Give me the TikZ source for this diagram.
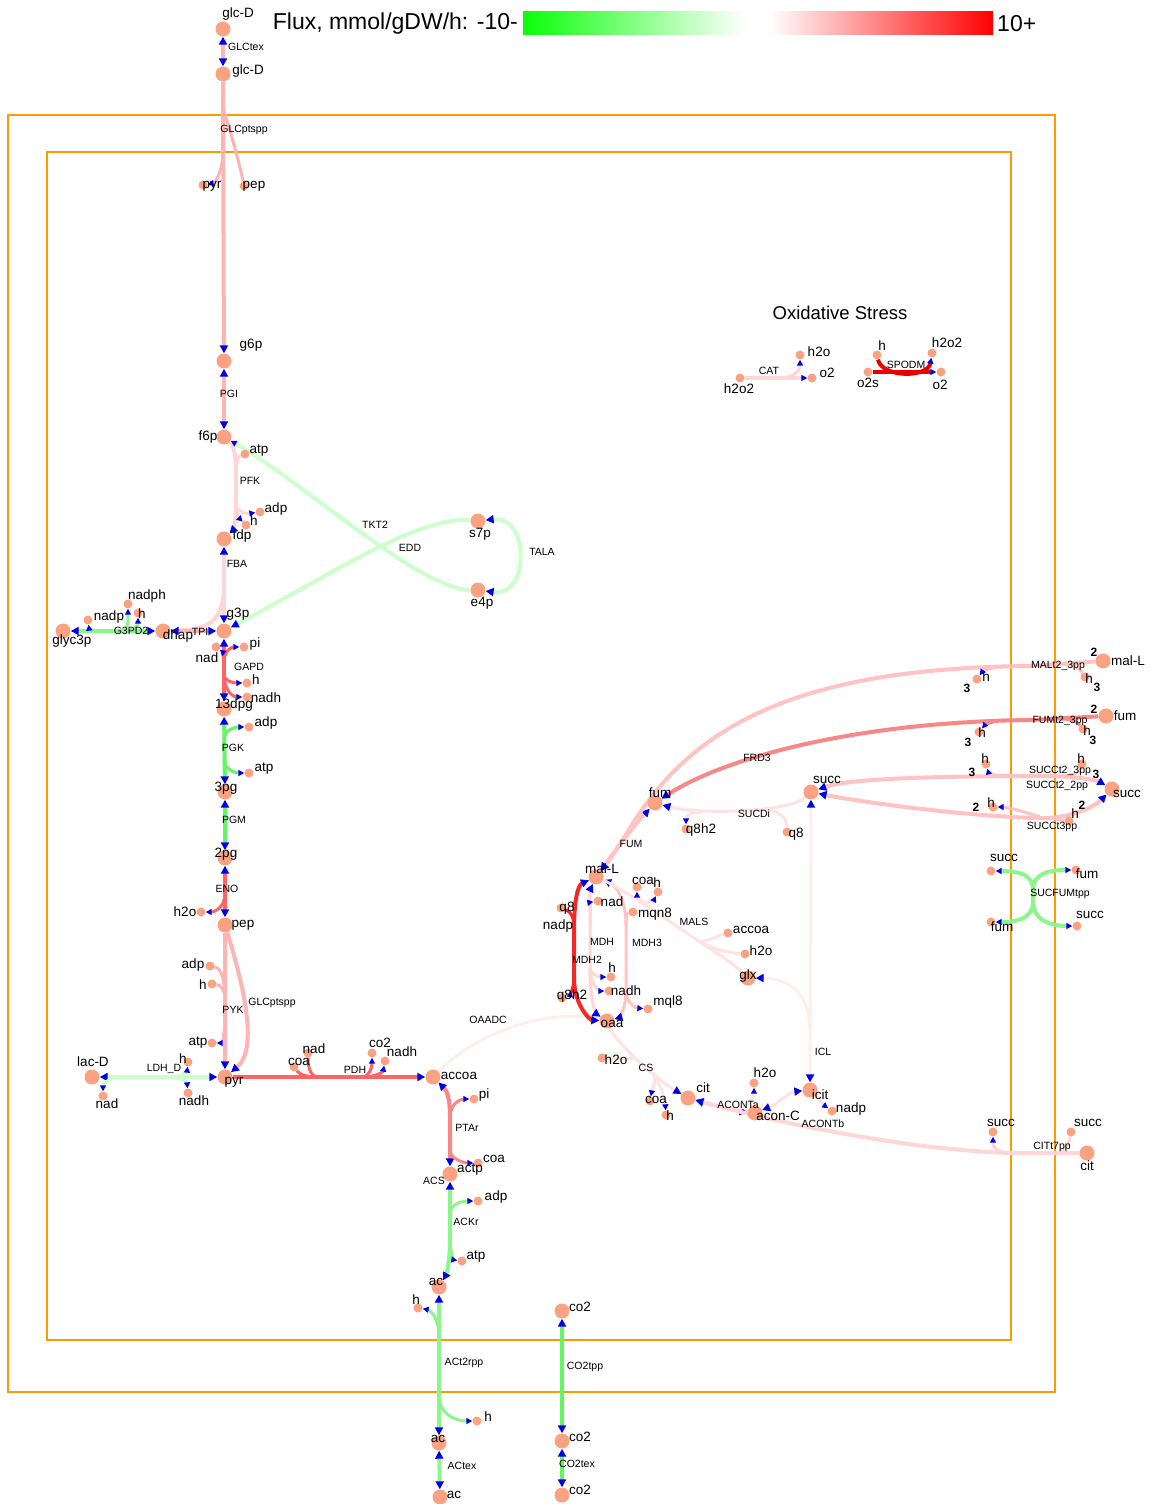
\documentclass[tikz,border=0pt]{standalone}
\usepackage{fontspec}
\setmainfont{Liberation Sans}
\usetikzlibrary{arrows.meta}

\definecolor{metc}{RGB}{250,162,130}
\definecolor{framec}{RGB}{255,153,0}
\definecolor{tipc}{RGB}{0,0,235}
\definecolor{barg}{RGB}{10,255,10}
\definecolor{barr}{RGB}{255,0,0}
\definecolor{pA}{RGB}{255,180,180}
\definecolor{pB}{RGB}{255,214,214}
\definecolor{pC}{RGB}{255,226,226}
\definecolor{pD}{RGB}{255,238,238}
\definecolor{pE}{RGB}{255,195,195}
\definecolor{rA}{RGB}{255,100,100}
\definecolor{rB}{RGB}{248,135,135}
\definecolor{rC}{RGB}{245,40,40}
\definecolor{rD}{RGB}{235,0,0}
\definecolor{gA}{RGB}{100,245,100}
\definecolor{gB}{RGB}{140,245,140}
\definecolor{gC}{RGB}{205,255,205}

\pgfdeclarelayer{frames}
\pgfdeclarelayer{lines}
\pgfsetlayers{frames,lines,main}

\tikzset{
  big/.style={circle,fill=metc,inner sep=0pt,minimum size=15pt},
  sml/.style={circle,fill=metc,inner sep=0pt,minimum size=9pt},
  ml/.style={font=\fontsize{13.5}{14}\selectfont,inner sep=0pt},
  rl/.style={font=\fontsize{10.5}{11}\selectfont,inner sep=0pt},
  sl/.style={font=\bfseries\fontsize{12}{13}\selectfont,inner sep=0pt},
  fl/.style={line width=4pt},
  fn/.style={line width=3pt},
  toL/.style={-{Triangle[length=8pt,width=8pt,color=tipc]}},
  toS/.style={-{Triangle[length=6pt,width=6pt,color=tipc]}},
  fromL/.style={{Triangle[length=8pt,width=8pt,color=tipc]}-},
  fromS/.style={{Triangle[length=6pt,width=6pt,color=tipc]}-},
  twoL/.style={{Triangle[length=8pt,width=8pt,color=tipc]}-{Triangle[length=8pt,width=8pt,color=tipc]}},
  wall/.style={draw=framec,line width=2.5pt},
}

\newcount\labcount
\newcommand{\metlab}[2]{\global\advance\labcount by 1\relax\edef\mylabname{lab\the\labcount}\node[ml] (\mylabname) at (#1) {#2};}
\newcommand{\rxnlab}[2]{\global\advance\labcount by 1\relax\edef\mylabname{lab\the\labcount}\node[rl] (\mylabname) at (#1) {#2};}
\newcommand{\stolab}[2]{\global\advance\labcount by 1\relax\edef\mylabname{lab\the\labcount}\node[sl] (\mylabname) at (#1) {#2};}

\begin{document}
\begin{tikzpicture}[x=1pt,y=-1pt]
\useasboundingbox (0,0) rectangle (1156,1504);

\begin{pgfonlayer}{frames}
  \fill[white] (0,0) rectangle (1156,1504);
  \draw[wall] (8,115) rectangle (1055,1392);
  \draw[wall] (47,152) rectangle (1011,1340);
\end{pgfonlayer}

% legend
\node[anchor=east,font=\fontsize{23}{24}\selectfont,inner sep=0pt] (legtxt) at (518,24) {Flux, mmol/gDW/h: -10-};
\shade[left color=barg,right color=white] (523,12) rectangle (745,35);
\fill[white] (745,12) rectangle (770,35);
\shade[left color=white,right color=barr] (770,12) rectangle (993,35);
\node[anchor=west,font=\fontsize{23}{24}\selectfont,inner sep=0pt] (legmax) at (997,24) {10+};

% ---------- metabolites: large ----------
\node[big] (glcE) at (223,29) {};
\node[big] (glcP) at (223,74) {};
\node[big] (g6p) at (224,361) {};
\node[big] (f6p) at (224,437) {};
\node[big] (fdp) at (224,539) {};
\node[big] (g3p) at (224,631) {};
\node[big] (dhap) at (163,631) {};
\node[big] (glyc3p) at (63,631) {};
\node[big] (dpg13) at (224,709) {};
\node[big] (pg3) at (225,792) {};
\node[big] (pg2) at (225,858) {};
\node[big] (pep) at (225,925) {};
\node[big] (pyr) at (225,1077) {};
\node[big] (lacD) at (92,1077) {};
\node[big] (accoa) at (433,1077) {};
\node[big] (actp) at (450,1174) {};
\node[big] (acC) at (439,1287) {};
\node[big] (acP) at (439,1443) {};
\node[big] (acE) at (440,1497) {};
\node[big] (co2C) at (562,1311) {};
\node[big] (co2P) at (562,1441) {};
\node[big] (co2E) at (562,1495) {};
\node[big] (s7p) at (478,521) {};
\node[big] (e4p) at (478,590) {};
\node[big] (fum) at (655,803) {};
\node[big] (succ) at (811,792) {};
\node[big] (malL) at (596,877) {};
\node[big] (oaa) at (607,1021) {};
\node[big] (glx) at (748,978) {};
\node[big] (cit) at (688,1098) {};
\node[big] (aconC) at (755,1113) {};
\node[big] (icit) at (810,1090) {};
\node[big] (malLp) at (1103,661) {};
\node[big] (fumP) at (1106,716) {};
\node[big] (succP) at (1112,789) {};
\node[big] (citP) at (1087,1153) {};

% ---------- metabolites: small ----------
\node[sml] (pyrP) at (203,185) {};
\node[sml] (pepP) at (244,186) {};
\node[sml] (atp1) at (245,454) {};
\node[sml] (adp1) at (260,512) {};
\node[sml] (h1) at (246,525) {};
\node[sml] (nadp1) at (88,620) {};
\node[sml] (nadph1) at (128,604) {};
\node[sml] (h2) at (138,613) {};
\node[sml] (pi1) at (244,647) {};
\node[sml] (nad1) at (216,647) {};
\node[sml] (h3) at (247,683) {};
\node[sml] (nadh1) at (247,697) {};
\node[sml] (adp2) at (249,727) {};
\node[sml] (atp2) at (249,773) {};
\node[sml] (h2o1) at (201,912) {};
\node[sml] (adp3) at (210,966) {};
\node[sml] (h4) at (212,984) {};
\node[sml] (atp3) at (212,1043) {};
\node[sml] (h5) at (188,1062) {};
\node[sml] (nad2) at (103,1096) {};
\node[sml] (nadh2) at (188,1093) {};
\node[sml] (coa1) at (294,1067) {};
\node[sml] (nad3) at (308,1053) {};
\node[sml] (co2a) at (372,1053) {};
\node[sml] (nadh3) at (385,1061) {};
\node[sml] (pi2) at (474,1099) {};
\node[sml] (coa2) at (478,1163) {};
\node[sml] (adp4) at (478,1201) {};
\node[sml] (atp4) at (462,1261) {};
\node[sml] (h6) at (418,1308) {};
\node[sml] (h7) at (477,1421) {};
\node[sml] (h2o2a) at (740,378) {};
\node[sml] (h2oX) at (800,355) {};
\node[sml] (o2a) at (812,378) {};
\node[sml] (hS) at (877,355) {};
\node[sml] (h2o2b) at (932,353) {};
\node[sml] (o2s) at (868,372) {};
\node[sml] (o2b) at (941,372) {};
\node[sml] (q8h2a) at (686,829) {};
\node[sml] (q8a) at (787,832) {};
\node[sml] (q8b) at (561,908) {};
\node[sml] (q8h2b) at (562,998) {};
\node[sml] (nad4) at (598,901) {};
\node[sml] (coaM) at (637,887) {};
\node[sml] (hM) at (658,892) {};
\node[sml] (mqn8) at (633,912) {};
\node[sml] (accoaM) at (728,933) {};
\node[sml] (h2oM) at (745,954) {};
\node[sml] (h8) at (611,977) {};
\node[sml] (nadh4) at (609,991) {};
\node[sml] (mql8) at (648,1009) {};
\node[sml] (h2oCS) at (602,1058) {};
\node[sml] (coaCS) at (650,1101) {};
\node[sml] (hCS) at (666,1115) {};
\node[sml] (h2oA) at (754,1083) {};
\node[sml] (nadpI) at (832,1111) {};
\node[sml] (h3a) at (977,679) {};
\node[sml] (h3b) at (1085,677) {};
\node[sml] (h3c) at (979,732) {};
\node[sml] (h3d) at (1083,729) {};
\node[sml] (h3e) at (986,764) {};
\node[sml] (h3f) at (1082,764) {};
\node[sml] (h2a) at (993,807) {};
\node[sml] (h2b) at (1069,821) {};
\node[sml] (succS1) at (991,871) {};
\node[sml] (fumS1) at (1076,870) {};
\node[sml] (fumS2) at (991,922) {};
\node[sml] (succS2) at (1077,926) {};
\node[sml] (succC1) at (993,1132) {};
\node[sml] (succC2) at (1071,1132) {};

% ---------- reactions ----------
\begin{pgfonlayer}{lines}
% GLCtex
\draw[fl,pA,twoL] (glcE) -- (glcP);
% GLCptspp (periplasm)
\coordinate (gpA) at (223,108);
\coordinate (gpB) at (223,150);
\draw[fl,pA] (glcP) -- (gpA);
\draw[fl,pA,toL] (gpA) -- (g6p);
\draw[fn,pA] (gpA) .. controls (230,130) and (240,165) .. (pepP);
\draw[fn,pA,toS] (gpB) .. controls (223,172) and (215,183) .. (pyrP);
% PGI
\draw[fl,pA,twoL] (g6p) -- (f6p);
% PFK
\coordinate (pfkA) at (236,470);
\coordinate (pfkB) at (236,505);
\draw[fl,pB] (f6p) .. controls (234,446) and (236,456) .. (pfkA) -- (pfkB);
\draw[fl,pB,toL] (pfkB) .. controls (236,522) and (233,530) .. (fdp);
\draw[fn,pB] (atp1) .. controls (238,456) and (236,462) .. (pfkA);
\draw[fn,pB,toS] (pfkB) .. controls (237,512) and (246,514) .. (adp1);
\draw[fn,pB,toS] (pfkB) .. controls (237,515) and (240,519) .. (h1);
% TKT2, EDD, TALA
\draw[fl,gC,fromS] (f6p) .. controls (300,480) and (420,590) .. (e4p);
\draw[fl,gC,fromL] (g3p) .. controls (330,575) and (420,515) .. (s7p);
\draw[fl,gC,twoL] (s7p) .. controls (530,515) and (530,597) .. (e4p);
% FBA, TPI
\coordinate (fbaA) at (224,585);
\draw[fl,pB,twoL] (fdp) -- (g3p);
\draw[fl,pB] (fbaA) .. controls (224,625) and (205,630) .. (dhap);
\draw[fl,pA,twoL] (dhap) -- (g3p);
% G3PD2
\coordinate (gdA) at (100,631);
\coordinate (gdB) at (122,631);
\draw[fl,gB,twoL] (glyc3p) -- (dhap);
\draw[fn,gB,toS] (gdA) .. controls (92,631) and (89,628) .. (nadp1);
\draw[fn,gB,toS] (gdB) .. controls (128,631) and (128,622) .. (nadph1);
\draw[fn,gB,toS] (gdB) .. controls (134,631) and (138,626) .. (h2);
% GAPD
\coordinate (gaA) at (224,662);
\coordinate (gaB) at (224,675);
\draw[fl,rA,twoL] (g3p) -- (dpg13);
\draw[fn,rA,toS] (gaA) .. controls (224,650) and (232,647) .. (pi1);
\draw[fn,rA,toS] (gaA) .. controls (224,655) and (220,650) .. (nad1);
\draw[fn,rA,toS] (gaB) .. controls (225,682) and (235,683) .. (h3);
\draw[fn,rA,toS] (gaB) .. controls (225,694) and (235,697) .. (nadh1);
% PGK
\coordinate (pkA) at (224,740);
\coordinate (pkB) at (224,758);
\draw[fl,gA,twoL] (dpg13) -- (pg3);
\draw[fn,gA,toS] (pkA) .. controls (224,729) and (236,727) .. (adp2);
\draw[fn,gA,toS] (pkB) .. controls (224,770) and (236,773) .. (atp2);
% PGM
\draw[fl,gA,twoL] (pg3) -- (pg2);
% ENO
\coordinate (enA) at (225,893);
\draw[fl,rA,twoL] (pg2) -- (pep);
\draw[fn,rA,toS] (enA) .. controls (225,908) and (214,912) .. (h2o1);
% PYK
\coordinate (pyA) at (225,1000);
\coordinate (pyB) at (225,1012);
\draw[fl,pA,toL] (pep) -- (pyr);
\draw[fn,pA] (adp3) .. controls (221,968) and (225,978) .. (pyA);
\draw[fn,pA] (h4) .. controls (221,985) and (225,990) .. (pyA);
\draw[fn,pA,toS] (pyB) .. controls (225,1035) and (222,1043) .. (atp3);
% GLCptspp (cytosol)
\draw[fl,pA,toL] (pep) .. controls (245,990) and (258,1050) .. (pyr);
% LDH_D
\coordinate (ldA) at (125,1077);
\coordinate (ldB) at (168,1077);
\draw[fl,gC,twoL] (lacD) -- (pyr);
\draw[fn,gC,toS] (ldA) .. controls (108,1077) and (103,1084) .. (nad2);
\draw[fn,gC,toS] (ldB) .. controls (180,1077) and (187,1072) .. (h5);
\draw[fn,gC,toS] (ldB) .. controls (180,1077) and (187,1082) .. (nadh2);
% PDH
\coordinate (pdA) at (318,1077);
\coordinate (pdB) at (362,1077);
\draw[fl,rA,toL] (pyr) -- (accoa);
\draw[fn,rA] (coa1) .. controls (300,1075) and (308,1077) .. (pdA);
\draw[fn,rA] (nad3) .. controls (308,1070) and (312,1077) .. (pdA);
\draw[fn,rA,toS] (pdB) .. controls (369,1077) and (372,1068) .. (co2a);
\draw[fn,rA,toS] (pdB) .. controls (376,1077) and (383,1072) .. (nadh3);
% OAADC
\draw[fn,pD] (accoa) .. controls (480,1030) and (550,1008) .. (oaa);
% PTAr
\coordinate (ptA) at (450,1118);
\coordinate (ptB) at (450,1150);
\draw[fl,rB,twoL] (accoa) .. controls (446,1090) and (450,1095) .. (ptA) -- (ptB) -- (actp);
\draw[fn,rB,toS] (ptA) .. controls (450,1102) and (462,1099) .. (pi2);
\draw[fn,rB,toS] (ptB) .. controls (450,1160) and (466,1163) .. (coa2);
% ACKr
\coordinate (akA) at (450,1215);
\coordinate (akB) at (450,1240);
\draw[fl,gB,twoL] (actp) -- (akB) .. controls (450,1262) and (446,1275) .. (acC);
\draw[fn,gB,toS] (akA) .. controls (450,1203) and (463,1201) .. (adp4);
\draw[fn,gB,toS] (akB) .. controls (450,1255) and (455,1260) .. (atp4);
% ACt2rpp, ACtex
\coordinate (acA) at (439,1335);
\coordinate (acB) at (439,1395);
\draw[fl,gB,twoL] (acC) -- (acP);
\draw[fn,gB,toS] (acA) .. controls (439,1318) and (430,1310) .. (h6);
\draw[fn,gB,toS] (acB) .. controls (439,1414) and (455,1421) .. (h7);
\draw[fl,gB,twoL] (acP) -- (acE);
% CO2tpp, CO2tex
\draw[fl,gA,twoL] (co2C) -- (co2P);
\draw[fl,gA,twoL] (co2P) -- (co2E);
% CAT
\coordinate (caA) at (778,378);
\draw[fl,pB,toS] (h2o2a) -- (o2a);
\draw[fn,pB,toS] (caA) .. controls (792,378) and (800,372) .. (h2oX);
% SPODM
\draw[fl,rD,toS] (o2s) -- (o2b);
\draw[fl,rD,toS] (hS) .. controls (882,378) and (928,378) .. (h2o2b);
% SUCDi
\coordinate (sdA) at (702,812);
\coordinate (sdB) at (768,810);
\draw[fn,pC,toL] (succ) .. controls (790,812) and (700,815) .. (fum);
\draw[fn,pC,toS] (sdA) .. controls (690,812) and (686,816) .. (q8h2a);
\draw[fn,pC] (sdB) .. controls (782,812) and (787,820) .. (q8a);
% FUM
\draw[fl,pE,twoL] (fum) .. controls (630,830) and (612,855) .. (malL);
% MALt2_3pp
\coordinate (mtA) at (1030,666);
\coordinate (mtB) at (1005,666);
\coordinate (mtC) at (1062,664);
\draw[fl,pE,toL] (malLp) -- (mtA) .. controls (790,668) and (690,730) .. (630,828) .. controls (618,848) and (608,862) .. (malL);
\draw[fn,pE,toS] (mtB) .. controls (990,667) and (982,672) .. (h3a);
\draw[fn,pE] (mtC) .. controls (1075,664) and (1081,670) .. (h3b);
% FUMt2_3pp
\coordinate (ftA) at (1030,720);
\coordinate (ftB) at (1005,720);
\coordinate (ftC) at (1062,719);
\draw[fl,rB,toL] (fumP) -- (ftA) .. controls (850,722) and (720,760) .. (fum);
\draw[fn,rB,toS] (ftB) .. controls (990,721) and (984,726) .. (h3c);
\draw[fn,rB] (ftC) .. controls (1075,719) and (1079,724) .. (h3d);
% SUCCt2_3pp, SUCCt2_2pp, SUCCt3pp
\coordinate (scA) at (1040,776);
\coordinate (scB) at (1035,818);
\coordinate (scC) at (1005,776);
\coordinate (scD) at (1060,776);
\coordinate (scE) at (1040,817);
\draw[fl,pE,twoL] (succP) .. controls (1100,782) and (1085,776) .. (scA) .. controls (950,776) and (850,778) .. (succ);
\draw[fl,pE,twoL] (succP) .. controls (1095,806) and (1070,820) .. (scB) .. controls (950,815) and (850,800) .. (succ);
\draw[fn,pE,toS] (scC) .. controls (992,776) and (988,771) .. (h3e);
\draw[fn,pE] (scD) .. controls (1075,776) and (1080,771) .. (h3f);
\draw[fn,pE,toS] (scE) .. controls (1020,810) and (1005,807) .. (h2a);
\draw[fn,pE] (scB) .. controls (1055,818) and (1062,820) .. (h2b);
% SUCFUMtpp
\coordinate (sfA) at (1033,890);
\coordinate (sfB) at (1033,902);
\draw[fl,gB] (sfA) -- (sfB);
\draw[fl,gB,toS] (sfA) .. controls (1033,875) and (1020,871) .. (succS1);
\draw[fl,gB,toS] (sfA) .. controls (1033,875) and (1046,870) .. (fumS1);
\draw[fl,gB,toS] (sfB) .. controls (1033,917) and (1020,922) .. (fumS2);
\draw[fl,gB,toS] (sfB) .. controls (1033,917) and (1046,926) .. (succS2);
% MDH2
\coordinate (m2A) at (574,930);
\coordinate (m2B) at (574,978);
\draw[fl,rC,twoL] (malL) .. controls (578,885) and (574,900) .. (m2A) -- (m2B) .. controls (574,1005) and (590,1020) .. (oaa);
\draw[fn,rC] (q8b) .. controls (572,912) and (574,918) .. (m2A);
\draw[fn,rC,toS] (m2B) .. controls (574,990) and (568,996) .. (q8h2b);
% MDH
\coordinate (mdA) at (590,925);
\coordinate (mdB) at (590,968);
\draw[fn,pB,twoL] (malL) .. controls (590,890) and (590,900) .. (mdA) -- (mdB) .. controls (590,1008) and (598,1015) .. (oaa);
\draw[fn,pB,toS] (mdA) .. controls (590,908) and (592,902) .. (nad4);
\draw[fn,pB,toS] (mdB) .. controls (590,975) and (600,977) .. (h8);
\draw[fn,pB,toS] (mdB) .. controls (590,985) and (600,991) .. (nadh4);
% MDH3
\coordinate (m3A) at (626,925);
\coordinate (m3B) at (626,990);
\draw[fn,pE,twoL] (malL) .. controls (615,885) and (626,898) .. (m3A) -- (m3B) .. controls (626,1010) and (618,1018) .. (oaa);
\draw[fn,pE] (mqn8) .. controls (627,913) and (626,918) .. (m3A);
\draw[fn,pE,toS] (m3B) .. controls (626,1003) and (636,1008) .. (mql8);
% MALS
\coordinate (msA) at (644,904);
\coordinate (msB) at (700,942);
\draw[fn,pC] (malL) .. controls (625,890) and (660,915) .. (msB);
\draw[fn,pC] (msB) .. controls (720,955) and (735,965) .. (glx);
\draw[fn,pC] (msB) .. controls (712,940) and (720,935) .. (accoaM);
\draw[fn,pC] (msB) .. controls (715,950) and (730,953) .. (h2oM);
\draw[fn,pC,toS] (msA) .. controls (640,898) and (637,896) .. (coaM);
\draw[fn,pC,toS] (msA) .. controls (652,900) and (655,898) .. (hM);
% ICL
\coordinate (icA) at (810,1030);
\draw[fn,pD,twoL] (icit) -- (succ);
\draw[fn,pD,toL] (icA) .. controls (810,995) and (790,978) .. (glx);
% CS
\coordinate (csA) at (636,1058);
\coordinate (csB) at (655,1075);
\draw[fn,pC,toL] (oaa) .. controls (615,1040) and (650,1075) .. (cit);
\draw[fn,pC] (h2oCS) .. controls (618,1058) and (628,1058) .. (csA);
\draw[fn,pC,toS] (csB) .. controls (655,1085) and (652,1090) .. (coaCS);
\draw[fn,pC,toS] (csB) .. controls (662,1090) and (665,1100) .. (hCS);
% ACONTa, ACONTb
\coordinate (anA) at (738,1110);
\draw[fn,pC,twoL] (cit) .. controls (705,1103) and (730,1110) .. (aconC);
\draw[fn,pC,toS] (anA) .. controls (748,1105) and (754,1098) .. (h2oA);
\draw[fn,pC,twoL] (aconC) .. controls (775,1105) and (790,1092) .. (icit);
\draw[fn,pC,toS] (icit) .. controls (820,1100) and (825,1106) .. (nadpI);
% CITt7pp
\coordinate (ctA) at (1012,1153);
\coordinate (ctB) at (1055,1153);
\draw[fl,pB,toL] (citP) -- (ctA) .. controls (900,1150) and (760,1118) .. (cit);
\draw[fn,pB,toS] (ctA) .. controls (997,1153) and (993,1147) .. (succC1);
\draw[fn,pB] (succC2) .. controls (1069,1145) and (1062,1153) .. (ctB);
\end{pgfonlayer}

% ---------- metabolite labels ----------
\metlab{238,14}{glc-D}
\metlab{248,71}{glc-D}
\metlab{212,186}{pyr}
\metlab{254,186}{pep}
\metlab{251,345}{g6p}
\metlab{208,437}{f6p}
\metlab{259,451}{atp}
\metlab{276,509}{adp}
\metlab{254,521}{h}
\metlab{242,536}{fdp}
\metlab{147,596}{nadph}
\metlab{109,617}{nadp}
\metlab{142,614}{h}
\metlab{72,641}{glyc3p}
\metlab{178,636}{dhap}
\metlab{238,614}{g3p}
\metlab{255,644}{pi}
\metlab{207,658}{nad}
\metlab{256,680}{h}
\metlab{266,698}{nadh}
\metlab{234,705}{13dpg}
\metlab{266,723}{adp}
\metlab{264,769}{atp}
\metlab{226,788}{3pg}
\metlab{226,854}{2pg}
\metlab{185,912}{h2o}
\metlab{243,925}{pep}
\metlab{193,965}{adp}
\metlab{203,985}{h}
\metlab{198,1043}{atp}
\metlab{234,1082}{pyr}
\metlab{93,1062}{lac-D}
\metlab{107,1104}{nad}
\metlab{183,1059}{h}
\metlab{194,1101}{nadh}
\metlab{299,1062}{coa}
\metlab{314,1049}{nad}
\metlab{380,1043}{co2}
\metlab{402,1052}{nadh}
\metlab{459,1076}{accoa}
\metlab{484,1095}{pi}
\metlab{494,1159}{coa}
\metlab{470,1170}{actp}
\metlab{496,1197}{adp}
\metlab{476,1257}{atp}
\metlab{436,1282}{ac}
\metlab{416,1300}{h}
\metlab{488,1417}{h}
\metlab{438,1439}{ac}
\metlab{454,1495}{ac}
\metlab{580,1307}{co2}
\metlab{580,1437}{co2}
\metlab{580,1490}{co2}
\metlab{480,534}{s7p}
\metlab{482,603}{e4p}
\metlab{739,389}{h2o2}
\metlab{819,352}{h2o}
\metlab{827,373}{o2}
\metlab{882,346}{h}
\metlab{947,343}{h2o2}
\metlab{868,383}{o2s}
\metlab{940,385}{o2}
\metlab{660,793}{fum}
\metlab{827,780}{succ}
\metlab{701,830}{q8h2}
\metlab{796,834}{q8}
\metlab{602,869}{mal-L}
\metlab{643,881}{coa}
\metlab{657,883}{h}
\metlab{612,902}{nad}
\metlab{567,908}{q8}
\metlab{558,926}{nadp}
\metlab{655,914}{mqn8}
\metlab{751,930}{accoa}
\metlab{761,951}{h2o}
\metlab{612,968}{h}
\metlab{748,976}{glx}
\metlab{626,991}{nadh}
\metlab{668,1002}{mql8}
\metlab{572,996}{q8h2}
\metlab{612,1024}{oaa}
\metlab{616,1060}{h2o}
\metlab{656,1100}{coa}
\metlab{670,1116}{h}
\metlab{703,1088}{cit}
\metlab{765,1073}{h2o}
\metlab{778,1116}{acon-C}
\metlab{820,1095}{icit}
\metlab{851,1109}{nadp}
\metlab{1128,661}{mal-L}
\metlab{986,677}{h}
\metlab{1089,679}{h}
\metlab{1125,716}{fum}
\metlab{982,733}{h}
\metlab{1087,731}{h}
\metlab{985,759}{h}
\metlab{1081,759}{h}
\metlab{1127,794}{succ}
\metlab{991,803}{h}
\metlab{1075,814}{h}
\metlab{1004,858}{succ}
\metlab{1087,874}{fum}
\metlab{1002,927}{fum}
\metlab{1090,915}{succ}
\metlab{1001,1123}{succ}
\metlab{1088,1123}{succ}
\metlab{1087,1166}{cit}

% ---------- stoichiometries ----------
\stolab{1094,652}{2}
\stolab{1097,687}{3}
\stolab{967,688}{3}
\stolab{1094,709}{2}
\stolab{1093,740}{3}
\stolab{968,742}{3}
\stolab{972,772}{3}
\stolab{1096,774}{3}
\stolab{976,807}{2}
\stolab{1082,805}{2}

% ---------- reaction labels ----------
\rxnlab{246,47}{GLCtex}
\rxnlab{244,130}{GLCptspp}
\rxnlab{229,394}{PGI}
\rxnlab{250,481}{PFK}
\rxnlab{375,525}{TKT2}
\rxnlab{410,548}{EDD}
\rxnlab{542,552}{TALA}
\rxnlab{237,564}{FBA}
\rxnlab{131,631}{G3PD2}
\rxnlab{200,632}{TPI}
\rxnlab{249,667}{GAPD}
\rxnlab{233,748}{PGK}
\rxnlab{234,820}{PGM}
\rxnlab{227,889}{ENO}
\rxnlab{233,1010}{PYK}
\rxnlab{272,1003}{GLCptspp}
\rxnlab{164,1069}{LDH\_D}
\rxnlab{355,1070}{PDH}
\rxnlab{488,1020}{OAADC}
\rxnlab{467,1128}{PTAr}
\rxnlab{434,1181}{ACS}
\rxnlab{466,1222}{ACKr}
\rxnlab{464,1363}{ACt2rpp}
\rxnlab{462,1466}{ACtex}
\rxnlab{585,1367}{CO2tpp}
\rxnlab{577,1464}{CO2tex}
\rxnlab{769,371}{CAT}
\rxnlab{906,365}{SPODM}
\rxnlab{757,758}{FRD3}
\rxnlab{754,814}{SUCDi}
\rxnlab{631,844}{FUM}
\rxnlab{694,922}{MALS}
\rxnlab{602,942}{MDH}
\rxnlab{647,943}{MDH3}
\rxnlab{587,960}{MDH2}
\rxnlab{646,1068}{CS}
\rxnlab{738,1105}{ACONTa}
\rxnlab{823,1124}{ACONTb}
\rxnlab{823,1052}{ICL}
\rxnlab{1058,666}{MALt2\_3pp}
\rxnlab{1060,721}{FUMt2\_3pp}
\rxnlab{1060,771}{SUCCt2\_3pp}
\rxnlab{1057,786}{SUCCt2\_2pp}
\rxnlab{1052,827}{SUCCt3pp}
\rxnlab{1060,894}{SUCFUMtpp}
\rxnlab{1052,1147}{CITt7pp}

\node[font=\fontsize{18.5}{20}\selectfont,inner sep=0pt] (oxtitle) at (840,313) {Oxidative Stress};
\end{tikzpicture}
\end{document}
